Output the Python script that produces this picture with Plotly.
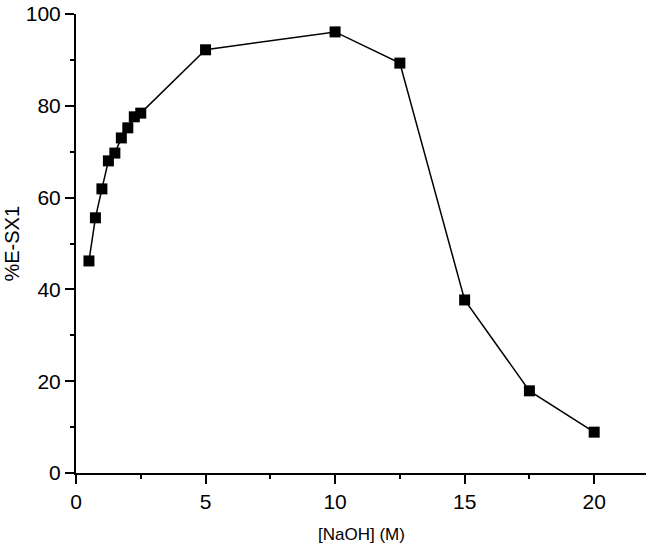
import plotly.graph_objects as go

naoh = [0.5, 0.75, 1.0, 1.25, 1.5, 1.75, 2.0, 2.25, 2.5, 5, 10, 12.5, 15, 17.5, 20]
e_sx1 = [46.2, 55.6, 61.9, 68.0, 69.7, 73.0, 75.2, 77.6, 78.4, 92.2, 96.1, 89.3, 37.7, 17.9, 8.9]

x_ticks = [0, 5, 10, 15, 20]
y_ticks = [0, 20, 40, 60, 80, 100]
x_title = "[NaOH] (M)"
y_title = "%E-SX1"

fig = go.Figure()
fig.add_trace(go.Scatter(
    x=naoh, y=e_sx1, mode="lines+markers",
    line=dict(color="black", width=1.5),
    marker=dict(symbol="square", size=11, color="black"),
    showlegend=False,
))

font_family = "Liberation Sans, Arial, sans-serif"
axis_common = dict(
    showline=True, linecolor="black", linewidth=2,
    ticks="outside", ticklen=9, tickwidth=2, tickcolor="black",
    showgrid=False, zeroline=False, mirror=False, automargin=False,
    tickfont=dict(family=font_family, size=21, color="black"),
)

fig.update_layout(
    width=646, height=547,
    margin=dict(l=76, r=0, t=14, b=74),
    plot_bgcolor="white", paper_bgcolor="white",
    xaxis=dict(
        range=[0, 22], tickvals=x_ticks,
        minor=dict(ticks="outside", ticklen=4, tickwidth=2, tickcolor="black", dtick=2.5, tick0=0),
        **axis_common,
    ),
    yaxis=dict(
        range=[0, 100], tickvals=y_ticks,
        minor=dict(ticks="outside", ticklen=4, tickwidth=2, tickcolor="black", dtick=10, tick0=0),
        **axis_common,
    ),
    annotations=[
        dict(text=x_title, xref="paper", yref="paper", x=0.5, y=-0.135, yanchor="middle",
             xanchor="center", showarrow=False, font=dict(family=font_family, size=17, color="black")),
        dict(text=y_title, xref="paper", yref="paper", x=-0.114, y=0.5, xanchor="center",
             yanchor="middle", textangle=-90, showarrow=False,
             font=dict(family=font_family, size=20, color="black")),
    ],
)

fig.write_html(
    "out.html",
    config={"displayModeBar": False},
    post_script="document.body.style.margin='0';document.body.style.padding='0';",
)
